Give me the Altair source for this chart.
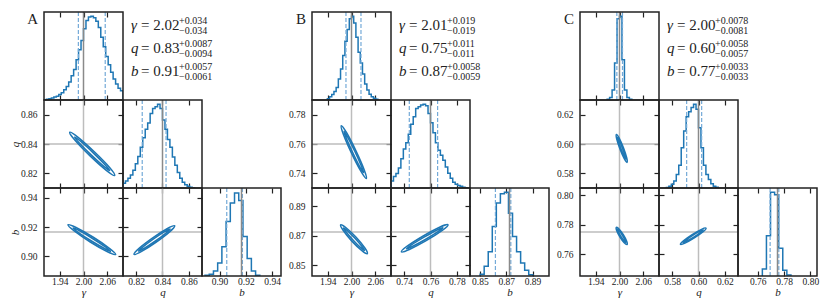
import altair as alt
import pandas as pd

FONT = "Liberation Serif, Times New Roman, Times, serif"
INK = "#222222"
BLUE = "#1f77b4"
LIGHT = "#74aad8"
GRAY_L = "#bdbdbd"
GRAY_D = "#8a8a8a"
W, H, GAP = 79, 88, 31

LABELS = ["A", "B", "C"]
NAMES = ["γ", "q", "b"]

# ---------------- shared gamma axis ----------------
G_DOMAIN = [1.90, 2.10]
G_TICKS = [1.94, 2.00, 2.06]

# ---------------- panel A ----------------
A_Q_DOMAIN = [0.81, 0.87]
A_Q_TICKS = [0.82, 0.84, 0.86]
A_B_DOMAIN = [0.8867, 0.9467]
A_B_TICKS = [0.90, 0.92, 0.94]
A_TRUTH = [2.00, 0.84, 0.9167]
A_QUANT_G = [1.987, 2.055]
A_QUANT_Q = [0.8246, 0.8427]
A_QUANT_B = [0.9055, 0.9174]
A_TEXT = [["2.02", "+0.034", "−0.034"], ["0.83", "+0.0087", "−0.0094"], ["0.91", "+0.0057", "−0.0061"]]
A_BIN_G = [1.90, 0.00625]
A_HIST_G = [0.004, 0.008, 0.015, 0.023, 0.035, 0.046, 0.065, 0.088, 0.123, 0.16, 0.215, 0.29, 0.365, 0.48, 0.60, 0.71,
            0.85, 0.95, 0.99, 1.0, 0.98, 0.94, 0.865, 0.75, 0.635, 0.52, 0.42, 0.33, 0.25, 0.19, 0.14, 0.11]
A_BIN_Q = [0.81, 0.001875]
A_HIST_Q = [0.058, 0.085, 0.116, 0.155, 0.213, 0.29, 0.376, 0.485, 0.60, 0.70, 0.775, 0.89, 0.95, 0.97, 1.0, 0.95,
            0.81, 0.70, 0.58, 0.485, 0.37, 0.27, 0.186, 0.116, 0.07, 0.039, 0.02, 0.008, 0.003]
A_BIN_B = [0.8890, 0.0032]
A_HIST_B = [0.01, 0.02, 0.06, 0.155, 0.35, 0.65, 0.87, 0.99, 0.9, 0.47, 0.21, 0.06, 0.01]
A_GQ_OUT_X = [2.0790, 2.0585, 2.0167, 1.9780, 1.9650, 1.9855, 2.0273, 2.0660]
A_GQ_OUT_Y = [0.8186, 0.8219, 0.8319, 0.8427, 0.8480, 0.8447, 0.8347, 0.8240]
A_GQ_IN_X = [2.0664, 2.0515, 2.0193, 1.9887, 1.9776, 1.9925, 2.0247, 2.0553]
A_GQ_IN_Y = [0.8219, 0.8247, 0.8326, 0.8409, 0.8447, 0.8419, 0.8340, 0.8257]
A_GB_OUT_X = [2.0813, 2.0609, 2.0172, 1.9757, 1.9608, 1.9811, 2.0248, 2.0663]
A_GB_OUT_Y = [0.9014, 0.9032, 0.9099, 0.9176, 0.9216, 0.9198, 0.9131, 0.9054]
A_GB_IN_X = [2.0680, 2.0529, 2.0191, 1.9864, 1.9740, 1.9891, 2.0229, 2.0556]
A_GB_IN_Y = [0.9036, 0.9054, 0.9107, 0.9165, 0.9194, 0.9177, 0.9123, 0.9065]
A_QB_OUT_X = [0.8492, 0.8456, 0.8350, 0.8238, 0.8184, 0.8220, 0.8326, 0.8438]
A_QB_OUT_Y = [0.9209, 0.9170, 0.9097, 0.9033, 0.9015, 0.9054, 0.9127, 0.9191]
A_QB_IN_X = [0.8458, 0.8427, 0.8344, 0.8257, 0.8218, 0.8249, 0.8332, 0.8419]
A_QB_IN_Y = [0.9187, 0.9160, 0.9104, 0.9053, 0.9037, 0.9064, 0.9120, 0.9171]

# ---------------- panel B ----------------
B_Q_DOMAIN = [0.73, 0.79]
B_Q_TICKS = [0.74, 0.76, 0.78]
B_B_DOMAIN = [0.8425, 0.9025]
B_B_TICKS = [0.85, 0.87, 0.89]
B_TRUTH = [2.00, 0.76, 0.8725]
B_QUANT_G = [1.986, 2.024]
B_QUANT_Q = [0.7439, 0.7654]
B_QUANT_B = [0.8618, 0.8735]
B_TEXT = [["2.01", "+0.019", "−0.019"], ["0.75", "+0.011", "−0.011"], ["0.87", "+0.0058", "−0.0059"]]
B_BIN_G = [1.9389, 0.005556]
B_HIST_G = [0.015, 0.04, 0.065, 0.1, 0.15, 0.25, 0.37, 0.53, 0.70, 0.84, 0.97, 1.0, 0.92, 0.75, 0.57, 0.44, 0.31,
            0.19, 0.12, 0.07, 0.04, 0.02, 0.008]
B_BIN_Q = [0.73, 0.001875]
B_HIST_Q = [0.085, 0.136, 0.174, 0.24, 0.35, 0.465, 0.54, 0.64, 0.76, 0.85, 0.95, 0.97, 0.99, 1.0, 0.98, 0.89, 0.78,
            0.66, 0.54, 0.45, 0.39, 0.33, 0.25, 0.175, 0.116, 0.07, 0.046, 0.031, 0.02, 0.008, 0.004]
B_BIN_B = [0.8502, 0.003075]
B_HIST_B = [0.02, 0.116, 0.29, 0.59, 0.87, 0.98, 1.0, 0.75, 0.47, 0.29, 0.155, 0.07, 0.015]
B_GQ_OUT_X = [2.0375, 2.0241, 2.0001, 1.9794, 1.9742, 1.9875, 2.0115, 2.0322]
B_GQ_OUT_Y = [0.7365, 0.7413, 0.7538, 0.7667, 0.7725, 0.7677, 0.7552, 0.7423]
B_GQ_IN_X = [2.0305, 2.0212, 2.0029, 1.9863, 1.9811, 1.9904, 2.0087, 2.0253]
B_GQ_IN_Y = [0.7405, 0.7443, 0.7542, 0.7642, 0.7686, 0.7647, 0.7549, 0.7448]
B_GB_OUT_X = [2.0400, 2.0264, 2.0010, 1.9788, 1.9726, 1.9862, 2.0116, 2.0338]
B_GB_OUT_Y = [0.8578, 0.8598, 0.8663, 0.8737, 0.8774, 0.8754, 0.8689, 0.8616]
B_GB_IN_X = [2.0326, 2.0230, 2.0037, 1.9859, 1.9800, 1.9896, 2.0089, 2.0267]
B_GB_IN_Y = [0.8600, 0.8618, 0.8670, 0.8726, 0.8752, 0.8735, 0.8682, 0.8626]
B_QB_OUT_X = [0.7733, 0.7689, 0.7567, 0.7439, 0.7379, 0.7423, 0.7545, 0.7673]
B_QB_OUT_Y = [0.8774, 0.8736, 0.8666, 0.8606, 0.8590, 0.8628, 0.8698, 0.8759]
B_QB_IN_X = [0.7694, 0.7657, 0.7561, 0.7462, 0.7418, 0.7455, 0.7551, 0.7650]
B_QB_IN_Y = [0.8754, 0.8727, 0.8674, 0.8626, 0.8610, 0.8637, 0.8690, 0.8739]

# ---------------- panel C ----------------
C_Q_DOMAIN = [0.57, 0.63]
C_Q_TICKS = [0.58, 0.60, 0.62]
C_B_DOMAIN = [0.745, 0.805]
C_B_TICKS = [0.76, 0.78, 0.80]
C_TRUTH = [2.00, 0.60, 0.775]
C_QUANT_G = [1.9933, 2.0076]
C_QUANT_Q = [0.5910, 0.6024]
C_QUANT_B = [0.7694, 0.7760]
C_TEXT = [["2.00", "+0.0078", "−0.0081"], ["0.60", "+0.0058", "−0.0057"], ["0.77", "+0.0033", "−0.0033"]]
C_BIN_G = [1.96875, 0.00625]
C_HIST_G = [0.01, 0.03, 0.12, 0.44, 0.97, 1.0, 0.48, 0.12, 0.03, 0.008]
C_BIN_Q = [0.575625, 0.001875]
C_HIST_Q = [0.005, 0.02, 0.045, 0.085, 0.16, 0.27, 0.48, 0.68, 0.85, 0.91, 0.96, 1.0, 0.94, 0.72, 0.48, 0.27, 0.16,
            0.1, 0.05, 0.02, 0.008]
C_BIN_B = [0.7635, 0.0031]
C_HIST_B = [0.085, 0.48, 1.0, 0.97, 0.33, 0.07, 0.012]
C_GQ_OUT_X = [2.0190, 2.0121, 2.0013, 1.9931, 1.9922, 1.9991, 2.0099, 2.0181]
C_GQ_OUT_Y = [0.5875, 0.5900, 0.5966, 0.6034, 0.6065, 0.6040, 0.5974, 0.5906]
C_GQ_IN_X = [2.0161, 2.0115, 2.0035, 1.9967, 1.9951, 1.9997, 2.0077, 2.0145]
C_GQ_IN_Y = [0.5896, 0.5916, 0.5968, 0.6021, 0.6044, 0.6024, 0.5972, 0.5919]
C_GB_OUT_X = [2.0190, 2.0120, 2.0013, 1.9931, 1.9922, 1.9992, 2.0099, 2.0181]
C_GB_OUT_Y = [0.7665, 0.7677, 0.7716, 0.7759, 0.7781, 0.7769, 0.7730, 0.7687]
C_GB_IN_X = [2.0161, 2.0115, 2.0034, 1.9967, 1.9951, 1.9997, 2.0078, 2.0145]
C_GB_IN_Y = [0.7678, 0.7689, 0.7720, 0.7753, 0.7768, 0.7758, 0.7726, 0.7694]
C_QB_OUT_X = [0.6057, 0.6035, 0.5968, 0.5897, 0.5863, 0.5886, 0.5952, 0.6023]
C_QB_OUT_Y = [0.7776, 0.7752, 0.7710, 0.7674, 0.7666, 0.7690, 0.7732, 0.7768]
C_QB_IN_X = [0.6036, 0.6017, 0.5964, 0.5909, 0.5884, 0.5903, 0.5956, 0.6011]
C_QB_IN_Y = [0.7764, 0.7748, 0.7715, 0.7687, 0.7678, 0.7694, 0.7727, 0.7756]

PANELS = [
    dict(dom=[G_DOMAIN, A_Q_DOMAIN, A_B_DOMAIN], ticks=[G_TICKS, A_Q_TICKS, A_B_TICKS], truth=A_TRUTH,
         quant=[A_QUANT_G, A_QUANT_Q, A_QUANT_B], bins=[A_BIN_G, A_BIN_Q, A_BIN_B],
         hists=[A_HIST_G, A_HIST_Q, A_HIST_B], text=A_TEXT,
         cont={(0, 1): (A_GQ_OUT_X, A_GQ_OUT_Y, A_GQ_IN_X, A_GQ_IN_Y),
               (0, 2): (A_GB_OUT_X, A_GB_OUT_Y, A_GB_IN_X, A_GB_IN_Y),
               (1, 2): (A_QB_OUT_X, A_QB_OUT_Y, A_QB_IN_X, A_QB_IN_Y)}),
    dict(dom=[G_DOMAIN, B_Q_DOMAIN, B_B_DOMAIN], ticks=[G_TICKS, B_Q_TICKS, B_B_TICKS], truth=B_TRUTH,
         quant=[B_QUANT_G, B_QUANT_Q, B_QUANT_B], bins=[B_BIN_G, B_BIN_Q, B_BIN_B],
         hists=[B_HIST_G, B_HIST_Q, B_HIST_B], text=B_TEXT,
         cont={(0, 1): (B_GQ_OUT_X, B_GQ_OUT_Y, B_GQ_IN_X, B_GQ_IN_Y),
               (0, 2): (B_GB_OUT_X, B_GB_OUT_Y, B_GB_IN_X, B_GB_IN_Y),
               (1, 2): (B_QB_OUT_X, B_QB_OUT_Y, B_QB_IN_X, B_QB_IN_Y)}),
    dict(dom=[G_DOMAIN, C_Q_DOMAIN, C_B_DOMAIN], ticks=[G_TICKS, C_Q_TICKS, C_B_TICKS], truth=C_TRUTH,
         quant=[C_QUANT_G, C_QUANT_Q, C_QUANT_B], bins=[C_BIN_G, C_BIN_Q, C_BIN_B],
         hists=[C_HIST_G, C_HIST_Q, C_HIST_B], text=C_TEXT,
         cont={(0, 1): (C_GQ_OUT_X, C_GQ_OUT_Y, C_GQ_IN_X, C_GQ_IN_Y),
               (0, 2): (C_GB_OUT_X, C_GB_OUT_Y, C_GB_IN_X, C_GB_IN_Y),
               (1, 2): (C_QB_OUT_X, C_QB_OUT_Y, C_QB_IN_X, C_QB_IN_Y)}),
]

DUMMY = pd.DataFrame({"d": [0]})
NOSTROKE = alt.ViewBackground(stroke="transparent")


def make_axis(orient, ticks, labels, title):
    horiz = orient in ("top", "bottom")
    kw = dict(
        orient=orient, values=ticks, labels=labels, title=title,
        domain=False, grid=False, ticks=True, tickSize=5, offset=-5,
        tickColor=INK, tickWidth=1.2, format=".2f", labelFlush=False,
        labelFont=FONT, labelFontSize=9.5, labelColor=INK,
        labelPadding=0.5 if horiz else 7,
        titleFont=FONT, titleFontSize=11, titleFontStyle="italic",
        titleFontWeight="normal", titleColor=INK,
    )
    if title is not None:
        if horiz:
            kw["titleBaseline"] = "alphabetic"
            kw["titleY"] = 24
        else:
            kw["titleBaseline"] = "bottom"
            kw["titleX"] = -29
    return alt.Axis(**kw)


def frame():
    return alt.Chart(DUMMY).mark_rect(fill="transparent", stroke=INK, strokeWidth=1.5).encode(
        x=alt.value(0), x2=alt.value(W), y=alt.value(0), y2=alt.value(H))


def hist_cell(P, k, label):
    start, width = P["bins"][k]
    vals = P["hists"][k]
    n = len(vals)
    xs = [start] + [start + i * width for i in range(n)] + [start + n * width] * 2
    ys = [0.0] + list(vals) + [vals[-1], 0.0]
    df = pd.DataFrame({"x": xs, "y": ys, "i": list(range(len(xs)))})
    xsc = alt.Scale(domain=P["dom"][k], nice=False, zero=False)
    ysc = alt.Scale(domain=[0, 1.05], nice=False, zero=False)
    bottom = k == 2
    step = alt.Chart(df).mark_line(interpolate="step-after", color=BLUE, strokeWidth=1.5, clip=True).encode(
        x=alt.X("x:Q", scale=xsc, axis=make_axis("bottom", P["ticks"][k], bottom, NAMES[k] if bottom else None)),
        y=alt.Y("y:Q", scale=ysc, axis=None),
        order=alt.Order("i:Q"),
    )
    quant = alt.Chart(pd.DataFrame({"v": P["quant"][k]})).mark_rule(
        color=LIGHT, strokeWidth=1.2, strokeDash=[4, 2]).encode(
        x=alt.X("v:Q", scale=xsc, axis=make_axis("top", P["ticks"][k], False, None)))
    truth = alt.Chart(pd.DataFrame({"v": [P["truth"][k]]})).mark_rule(
        color=GRAY_D, strokeWidth=1.5).encode(x=alt.X("v:Q", scale=xsc, axis=None))
    layers = [step, quant, truth, frame()]
    if label:
        layers.append(alt.Chart(DUMMY).mark_text(
            text=label, font=FONT, fontSize=15, align="right", baseline="alphabetic", color=INK).encode(
            x=alt.value(-6), y=alt.value(12)))
    return alt.layer(*layers).resolve_axis(x="independent").properties(width=W, height=H, view=NOSTROKE)


def cont_cell(P, cx, cy, with_title):
    ox, oy, ix, iy = P["cont"][(cx, cy)]
    xsc = alt.Scale(domain=P["dom"][cx], nice=False, zero=False)
    ysc = alt.Scale(domain=P["dom"][cy], nice=False, zero=False)
    bottom = cy == 2
    left = cx == 0
    tv = alt.Chart(pd.DataFrame({"v": [P["truth"][cx]]})).mark_rule(color=GRAY_L, strokeWidth=1.5).encode(
        x=alt.X("v:Q", scale=xsc,
                axis=make_axis("bottom", P["ticks"][cx], bottom, NAMES[cx] if bottom else None)))
    th = alt.Chart(pd.DataFrame({"v": [P["truth"][cy]]})).mark_rule(color=GRAY_L, strokeWidth=1.5).encode(
        y=alt.Y("v:Q", scale=ysc,
                axis=make_axis("left", P["ticks"][cy], left, NAMES[cy] if (left and with_title) else None)))
    dout = pd.DataFrame({"x": ox, "y": oy, "i": list(range(len(ox)))})
    din = pd.DataFrame({"x": ix, "y": iy, "i": list(range(len(ix)))})
    outer = alt.Chart(dout).mark_line(interpolate="cardinal-closed", color=BLUE, strokeWidth=1.6, clip=True).encode(
        x=alt.X("x:Q", scale=xsc, axis=make_axis("top", P["ticks"][cx], False, None)),
        y=alt.Y("y:Q", scale=ysc, axis=make_axis("right", P["ticks"][cy], False, None)),
        order=alt.Order("i:Q"),
    )
    inner = alt.Chart(din).mark_line(interpolate="cardinal-closed", color=BLUE, strokeWidth=1.6, clip=True).encode(
        x=alt.X("x:Q", scale=xsc, axis=None),
        y=alt.Y("y:Q", scale=ysc, axis=None),
        order=alt.Order("i:Q"),
    )
    return alt.layer(tv, th, outer, inner, frame()).resolve_axis(
        x="independent", y="independent").properties(width=W, height=H, view=NOSTROKE)


def text_cell(P):
    layers = []
    for k in range(3):
        base = 18 + 23 * k
        main, sup, sub = P["text"][k]
        common = dict(font=FONT, align="left", baseline="alphabetic", color=INK)
        layers.append(alt.Chart(DUMMY).mark_text(text=NAMES[k], fontSize=15, fontStyle="italic", **common).encode(
            x=alt.value(8), y=alt.value(base)))
        layers.append(alt.Chart(DUMMY).mark_text(text="= " + main, fontSize=15, **common).encode(
            x=alt.value(18), y=alt.value(base)))
        layers.append(alt.Chart(DUMMY).mark_text(text=sup, fontSize=10, **common).encode(
            x=alt.value(56), y=alt.value(base - 6.5)))
        layers.append(alt.Chart(DUMMY).mark_text(text=sub, fontSize=10, **common).encode(
            x=alt.value(56), y=alt.value(base + 4)))
    return alt.layer(*layers).properties(width=W, height=H, view=NOSTROKE)


def empty_cell(w):
    return alt.Chart(DUMMY).mark_point(opacity=0).encode(
        x=alt.value(0), y=alt.value(0)).properties(width=w, height=H, view=NOSTROKE)


cells = []
for r in range(3):
    for p, P in enumerate(PANELS):
        if p > 0:
            cells.append(empty_cell(GAP))
        for c in range(3):
            if c == r:
                cells.append(hist_cell(P, r, LABELS[p] if r == 0 else None))
            elif c < r:
                cells.append(cont_cell(P, c, r, p == 0))
            elif r == 0 and c == 1:
                cells.append(text_cell(P))
            else:
                cells.append(empty_cell(W))

chart = alt.concat(*cells, columns=11, spacing=0, bounds="flush", align="each").properties(
    padding={"left": 0, "top": 0, "right": 0, "bottom": 0}
).configure(font=FONT).configure_view(stroke="transparent")

chart.save("out.html", embed_options={"renderer": "svg", "actions": False})
